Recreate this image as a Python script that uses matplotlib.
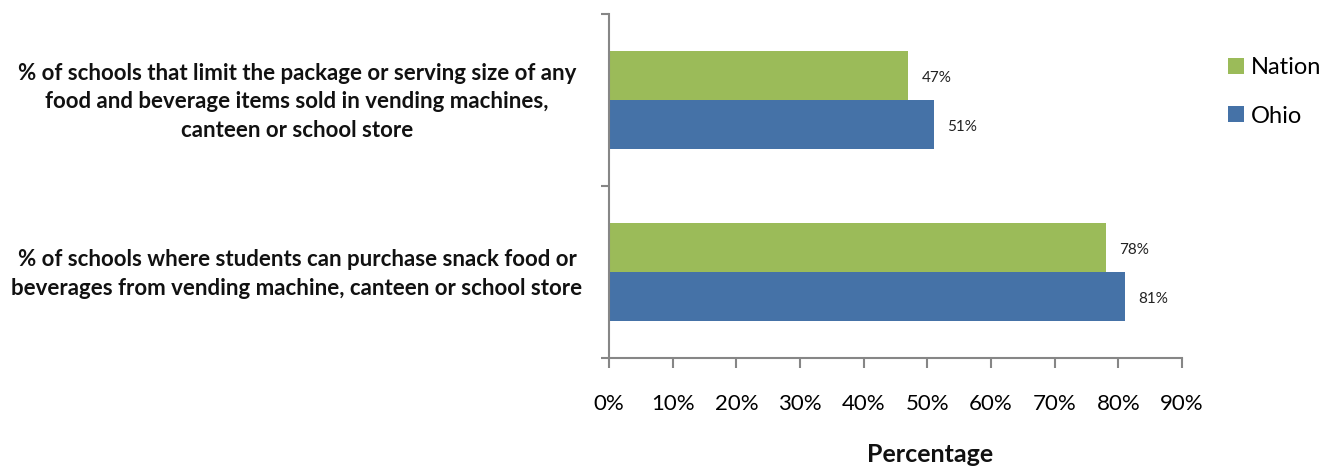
import matplotlib
matplotlib.use("Agg")
import matplotlib.pyplot as plt
from matplotlib.ticker import FixedLocator

plt.rcParams['font.family'] = ['Lato', 'DejaVu Sans']

categories = [
    "% of schools that limit the package or serving size of any\nfood and beverage items sold in vending machines,\ncanteen or school store",
    "% of schools where students can purchase snack food or\nbeverages from vending machine, canteen or school store",
]
nation = [47, 78]
ohio = [51, 81]
series_names = ["Nation", "Ohio"]
colors = ["#9BBB59", "#4572A7"]
xticks = list(range(0, 100, 10))
xlabel = "Percentage"

W, H = 1332, 468
fig = plt.figure(figsize=(W / 100, H / 100), dpi=100)
ax = fig.add_axes([609 / W, (H - 358) / H, (1182 - 609) / W, (358 - 14) / H])

bh = 0.285
ypos = list(range(len(categories)))
for i, (vals, col, name) in enumerate(zip([nation, ohio], colors, series_names)):
    offs = -bh / 2 if i == 0 else bh / 2
    ys = [y + offs for y in ypos]
    ax.barh(ys, vals, height=bh, color=col, label=name, edgecolor='none')
    for y, v in zip(ys, vals):
        ax.annotate(f"{v}%", (v, y), xytext=(10, -1.5), textcoords='offset points',
                    ha='left', va='center', fontsize=11, color='#222222')

ax.set_xlim(0, 90)
ax.set_ylim(1.5, -0.5)
ax.set_xticks(xticks)
ax.set_xticklabels([f"{t}%" for t in xticks], fontsize=16)
ax.yaxis.set_major_locator(FixedLocator([-0.5, 0.5, 1.5]))
ax.set_yticklabels([])
for s in ['top', 'right']:
    ax.spines[s].set_visible(False)
for s in ['left', 'bottom']:
    ax.spines[s].set_color('#868686')
    ax.spines[s].set_linewidth(1.5)
ax.tick_params(axis='x', length=7, width=1.5, color='#868686', pad=19)
ax.tick_params(axis='y', length=6, width=1.5, color='#868686')

# category labels
label_y = [102, 274]
for lab, yy in zip(categories, label_y):
    fig.text(297 / W, 1 - yy / H, lab, ha='center', va='center', multialignment='center',
             fontsize=16, fontweight='bold', linespacing=1.47, color='#111111')

fig.text(930 / W, 1 - 455 / H, xlabel, ha='center', va='center', fontsize=18,
         fontweight='bold', color='#111111')

ax.legend(loc='center left', bbox_to_anchor=(1207 / W, 1 - 92 / H), bbox_transform=fig.transFigure,
          frameon=False, fontsize=17, handlelength=0.65, handleheight=0.65, handletextpad=0.3,
          labelspacing=1.15)

fig.savefig("out.png", dpi=100)
